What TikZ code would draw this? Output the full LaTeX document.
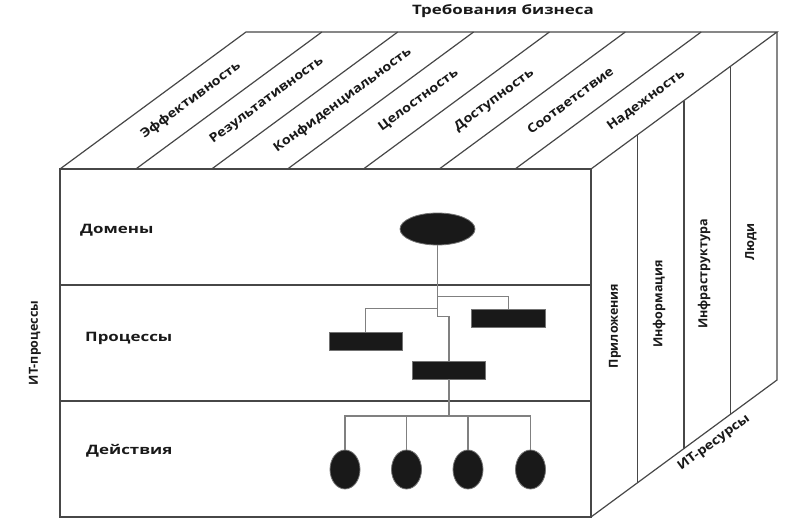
\documentclass[tikz,border=0pt]{standalone}
\usepackage{fontspec}
\setmainfont{Open Sans}
\newfontfamily\hfont[FakeStretch=1.3]{Open Sans}
\newfontfamily\dfont[FakeStretch=1.15]{Open Sans}
\newfontfamily\vfont{Open Sans}
\usetikzlibrary{shapes.geometric,calc}
\begin{document}
\begin{tikzpicture}[x=1pt,y=-1pt,
  frame/.style={draw=black!72, line width=1.2pt},
  link/.style={draw=black!50, line width=1.1pt},
  blob/.style={ellipse, fill=black!90, draw=black!55, line width=0.8pt, inner sep=0pt},
  bar/.style={rectangle, fill=black!90, draw=black!55, line width=0.8pt, minimum width=73pt, minimum height=18pt, inner sep=0pt},
  hlabel/.style={font=\hfont\bfseries\fontsize{13}{14}\selectfont, text=black!90, inner sep=0pt},
  dlabel/.style={font=\dfont\bfseries\fontsize{12.5}{14}\selectfont, text=black!90, inner sep=0pt, rotate=36.37},
  vlabel/.style={font=\vfont\bfseries\fontsize{12.5}{14}\selectfont, text=black!90, inner sep=0pt, rotate=90}
]
\useasboundingbox (0,0) rectangle (800,527);
\fill[white] (0,0) rectangle (800,527);

% cube corners
\coordinate (A) at (60,169);
\coordinate (B) at (591,169);
\coordinate (C) at (591,517);
\coordinate (D) at (60,517);
\coordinate (E) at (246,32);
\coordinate (F) at (777,32);
\coordinate (G) at (777,380);

% front face
\draw[frame] (A) -- (B) -- (C) -- (D) -- cycle;
\draw[frame] (60,285) -- (591,285);
\draw[frame] (60,401) -- (591,401);
% top face
\draw[frame] (A) -- (E) -- (F) -- (B);
\foreach \i in {1,...,6} {
  \draw[frame] ($(A)!\i/7!(B)$) -- ($(E)!\i/7!(F)$);
}
% right face
\draw[frame] (F) -- (G) -- (C);
\foreach \j in {1,2,3} {
  \draw[frame] ($(B)!\j/4!(F)$) -- ($(C)!\j/4!(G)$);
}

% title
\node[hlabel] (title) at (503,11) {Требования бизнеса};

% top face labels
\foreach \t [count=\i] in {Эффективность,Результативность,Конфиденциальность,Целостность,Доступность,Соответствие,Надежность} {
  \node[dlabel] (req\i) at ($($(A)!{(\i-0.5)/7}!(B)$)!0.5!($(E)!{(\i-0.5)/7}!(F)$)$) {\t};
}

% front labels
\node[hlabel, anchor=west] (ldom) at (80,230) {Домены};
\node[hlabel, anchor=west] (lproc) at (85,338) {Процессы};
\node[hlabel, anchor=west] (lact) at (86,451) {Действия};
\node[vlabel] (litp) at (35,343) {ИТ-процессы};

% right face labels
\node[vlabel] (r1) at (615,326) {Приложения};
\node[vlabel] (r2) at (659,304) {Информация};
\node[vlabel] (r3) at (704,274) {Инфраструктура};
\node[vlabel] (r4) at (751,242) {Люди};
\node[dlabel] (lres) at (714,443) {ИТ-ресурсы};

% tree
\node[blob, minimum width=75pt, minimum height=32pt] (dom) at (437.5,229) {};
\node[bar, minimum width=74pt] (p1) at (508.7,318.3) {};
\node[bar] (p2) at (365.7,341.2) {};
\node[bar] (p3) at (449,370) {};
\foreach \x [count=\k] in {345,406.5,468,530.5} {
  \node[blob, minimum width=30pt, minimum height=39pt] (a\k) at (\x,469.5) {};
}
\coordinate (j1) at (437.5,316.7);
\coordinate (j2) at (437.5,296.7);
\coordinate (j3) at (437.5,308.3);
\coordinate (j4) at (449,416);

\draw[link] (dom.south) -- (j1) -| (p3.north);
\draw[link] (j2) -| (p1.north);
\draw[link] (j3) -| (p2.north);
\draw[link] (p3.south) -- (j4);
\draw[link] (a1.north) |- (j4);
\draw[link] (a4.north) |- (j4);
\draw[link] (a2.north) -- (a2.north |- j4);
\draw[link] (a3.north) -- (a3.north |- j4);
\end{tikzpicture}
\end{document}
